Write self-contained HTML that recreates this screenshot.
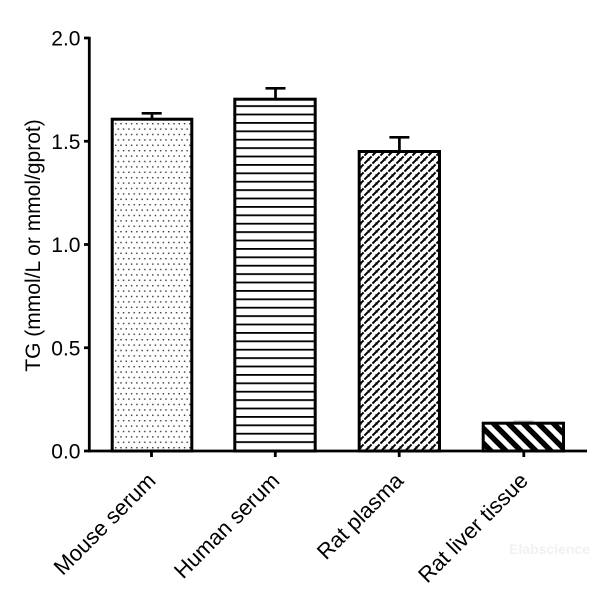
<!DOCTYPE html>
<html>
<head>
<meta charset="utf-8">
<style>
  html,body{margin:0;padding:0;background:#fff;}
  svg{display:block;}
  text{font-family:"Liberation Sans",Arial,sans-serif;fill:#000;}
</style>
</head>
<body>
<svg width="600" height="599" viewBox="0 0 600 599" xmlns="http://www.w3.org/2000/svg">
  <defs>
    <pattern id="dots" patternUnits="userSpaceOnUse" x="114" y="122" width="10.6" height="10.8">
      <rect x="1" y="1" width="1.4" height="1.4" fill="#333"/>
      <rect x="6.3" y="1" width="1.4" height="1.4" fill="#333"/>
      <rect x="3.6" y="6.4" width="1.4" height="1.4" fill="#333"/>
      <rect x="8.9" y="6.4" width="1.4" height="1.4" fill="#333"/>
    </pattern>
    <pattern id="hlines" patternUnits="userSpaceOnUse" x="0" y="105.2" width="20" height="8.4">
      <rect x="0" y="0" width="20" height="1.8" fill="#000"/>
    </pattern>
    <pattern id="brick" patternUnits="userSpaceOnUse" x="359" y="153" width="8" height="8">
      <rect width="8" height="8" fill="#fff"/>
      <path d="M-1,9 L9,-1" stroke="#000" stroke-width="2"/>
      <path d="M-2,2 L2,-2 M6,10 L10,6" stroke="#000" stroke-width="2"/>
      <path d="M3.2,1.2 L6.2,4.2" stroke="#fff" stroke-width="1.2"/>
      <path d="M0.5,5.5 L2.5,7.5" stroke="#000" stroke-width="1"/>
    </pattern>
    <pattern id="diag" patternUnits="userSpaceOnUse" x="478" y="423" width="15" height="15">
      <rect width="15" height="15" fill="#fff"/>
      <path d="M0,0 L15,15 M-15,0 L0,15 M15,0 L30,15 M0,-15 L15,0 M0,15 L15,30" stroke="#000" stroke-width="5.4"/>
    </pattern>
  </defs>

  <!-- Bars -->
  <rect x="112.2" y="119.2" width="79.6" height="331.8" fill="url(#dots)" stroke="#000" stroke-width="3"/>
  <rect x="234.8" y="99.2" width="80.4" height="351.8" fill="#fff" stroke="none"/>
  <rect x="234.8" y="99.2" width="80.4" height="351.8" fill="url(#hlines)" stroke="#000" stroke-width="3"/>
  <rect x="359.2" y="151.5" width="80.3" height="299.5" fill="url(#brick)" stroke="#000" stroke-width="3"/>
  <rect x="483.2" y="423.2" width="80.3" height="27.8" fill="url(#diag)" stroke="#000" stroke-width="3"/>

  <!-- Error bars -->
  <g stroke="#000" stroke-width="2.7" fill="none">
    <path d="M152,119 L152,113.3 M141.7,113.3 L161.7,113.3"/>
    <path d="M275.5,99 L275.5,88.3 M265.5,88.3 L285.5,88.3"/>
    <path d="M399.4,151 L399.4,137.3 M389.4,137.3 L409.4,137.3"/>
  </g>
  <path d="M513.5,421.2 L533.5,421.2" stroke="#888" stroke-width="1"/>

  <!-- Axes -->
  <g stroke="#000" stroke-width="2.8" fill="none">
    <path d="M89.3,36.7 L89.3,452.4"/>
    <path d="M87.9,451 L587,451"/>
    <path d="M84,38 L89,38 M84,141.25 L89,141.25 M84,244.5 L89,244.5 M84,347.75 L89,347.75 M84,451 L89,451"/>
    <path d="M151.5,451 L151.5,457 M275.3,451 L275.3,457 M399.2,451 L399.2,457 M523.8,451 L523.8,457"/>
  </g>

  <!-- Y tick labels -->
  <g font-size="21" text-anchor="end">
    <text x="80.5" y="45.5">2.0</text>
    <text x="80.5" y="148.8">1.5</text>
    <text x="80.5" y="252">1.0</text>
    <text x="80.5" y="355.3">0.5</text>
    <text x="80.5" y="458.5">0.0</text>
  </g>

  <!-- Y axis title -->
  <text font-size="21" text-anchor="middle" transform="translate(40,245.5) rotate(-90)">TG (mmol/L or mmol/gprot)</text>

  <!-- X labels -->
  <g font-size="22" text-anchor="end">
    <text transform="translate(157,482) rotate(-45)">Mouse serum</text>
    <text transform="translate(280.8,482) rotate(-45)">Human serum</text>
    <text transform="translate(404.7,482) rotate(-45)">Rat plasma</text>
    <text transform="translate(529.3,482) rotate(-45)">Rat liver tissue</text>
  </g>

  <!-- Watermark -->
  <text x="590" y="554" font-size="14" font-weight="bold" text-anchor="end" style="fill:#f1f1f1">Elabscience</text>
</svg>
</body>
</html>
